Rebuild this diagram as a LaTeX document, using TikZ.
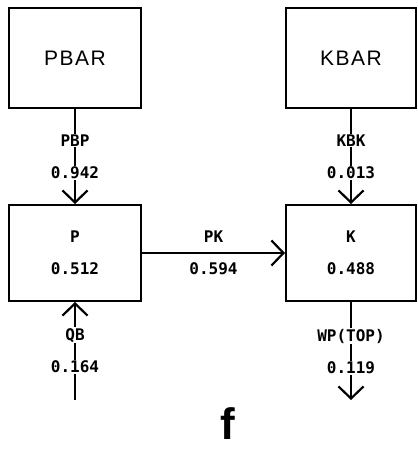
\documentclass[tikz,border=0pt]{standalone}
\usepackage{fontspec}
\usetikzlibrary{arrows.meta}
\newfontfamily\plotfont{DejaVu Sans Mono}
\newfontfamily\bigfont[LetterSpace=7]{Liberation Sans}
\newfontfamily\capfont{Liberation Sans}
\begin{document}
\begin{tikzpicture}[x=1pt,y=-1pt,line width=2pt,
  bigbox/.style={draw,line width=2pt,minimum width=132pt,minimum height=100pt,inner sep=0pt,
    font=\bigfont\fontsize{21}{24}\selectfont},
  valbox/.style={draw,line width=2pt,minimum width=132pt,minimum height=96pt,inner sep=0pt,align=center,
    font=\plotfont\bfseries\fontsize{16}{18}\selectfont},
  lbl/.style={fill=white,inner sep=1pt,font=\plotfont\bfseries\fontsize{16}{18}\selectfont},
  arr/.style={-{Straight Barb[length=12pt,width=25pt,line width=2.2pt]}}]
\useasboundingbox (0,0) rectangle (417,449);
\node[bigbox] (pbar) at (75,58) {PBAR};
\node[bigbox,minimum width=130pt] (kbar) at (351,58) {KBAR};
\node[valbox] (p) at (75,253) {P\\[14pt]0.512};
\node[valbox,minimum width=130pt] (k) at (351,253) {K\\[14pt]0.488};
\coordinate (qbs) at (75,400);
\coordinate (wpe) at (351,400);
\draw[arr] (pbar.south) -- (p.north) node[lbl,pos=.33]{PBP} node[lbl,pos=.67]{0.942};
\draw[arr] (kbar.south) -- (k.north) node[lbl,pos=.33]{KBK} node[lbl,pos=.67]{0.013};
\draw[arr] (qbs) -- (p.south) node[lbl,pos=.34]{0.164} node[lbl,pos=.66]{QB};
\draw[arr] (k.south) -- (wpe) node[lbl,pos=.35]{WP(TOP)} node[lbl,pos=.67]{0.119};
\draw[arr] (p.east) -- (k.west) node[lbl,midway,yshift=16pt,fill=none]{PK} node[lbl,midway,yshift=-16pt,fill=none]{0.594};
\node[font=\capfont\bfseries\fontsize{44}{44}\selectfont] (flabel) at (228,424) {f};
\end{tikzpicture}
\end{document}
